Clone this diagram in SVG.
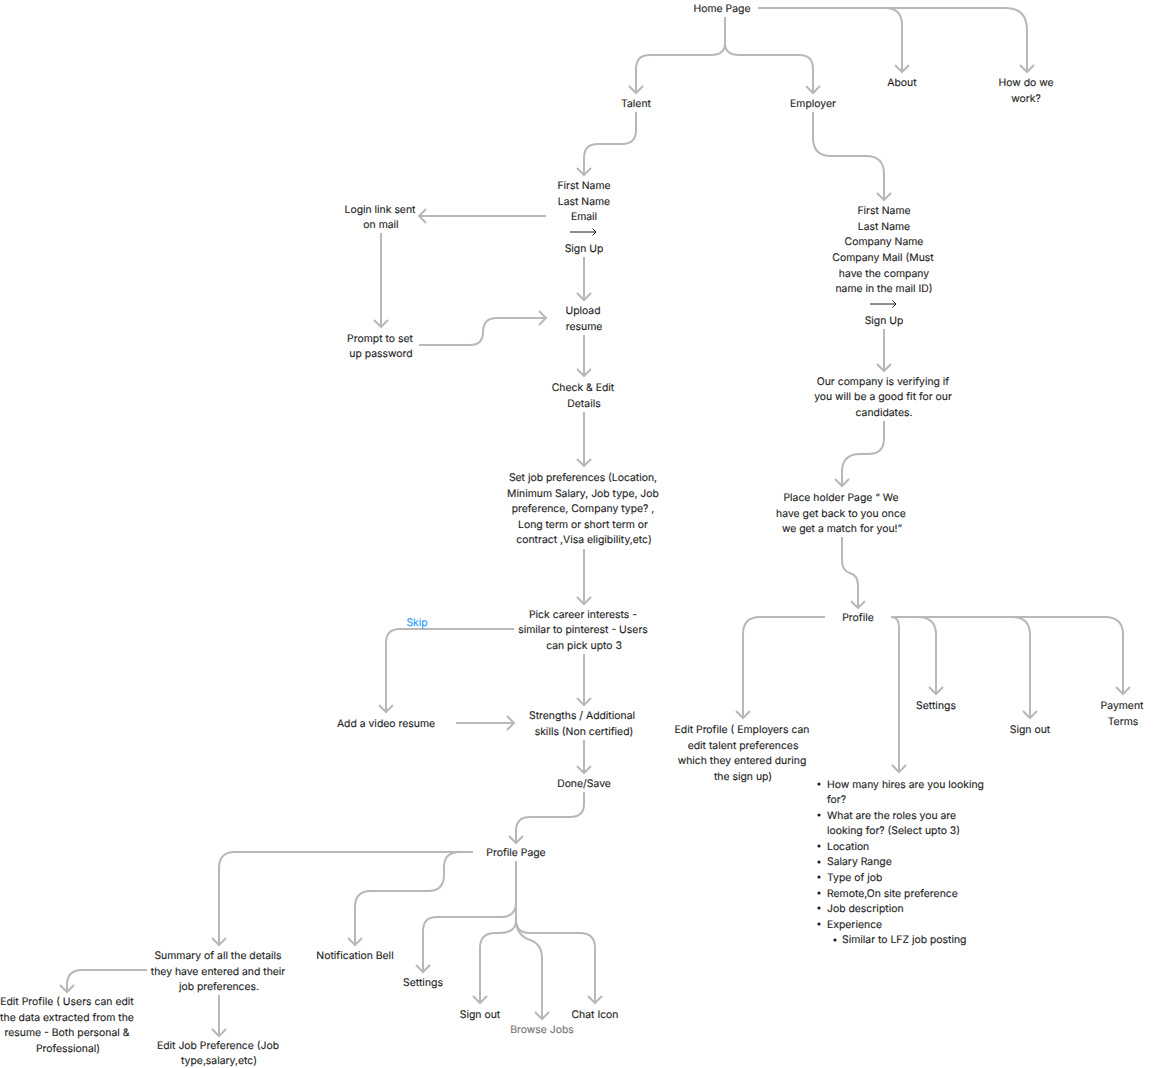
<svg xmlns="http://www.w3.org/2000/svg" width="1160" height="1068" viewBox="0 0 1160 1068">
<style>
text{font-family:Inter,"Noto Sans","Liberation Sans",sans-serif;font-size:10.4px;fill:#1e1e1e;stroke:#1e1e1e;stroke-width:.12px;text-anchor:middle;text-rendering:geometricPrecision}
.l{text-anchor:start}
.c path{fill:none;stroke:#b8b8b8;stroke-width:2;marker-end:url(#a)}
.t{fill:none;stroke:#1e1e1e;stroke-width:1;marker-end:url(#b)}
</style>
<defs>
<marker id="a" markerUnits="userSpaceOnUse" markerWidth="20" markerHeight="24" refX="10" refY="10" orient="auto" overflow="visible"><path d="M3 3 L10 10 L3 17" fill="none" stroke="#b8b8b8" stroke-width="2"/></marker>
<marker id="b" markerUnits="userSpaceOnUse" markerWidth="8" markerHeight="8" refX="5" refY="4" orient="auto"><path d="M1.5 .5 L5 4 L1.5 7.5" fill="none" stroke="#1e1e1e" stroke-width="1"/></marker>
</defs>
<rect width="1160" height="1068" fill="#fff"/>
<g id="connectors" class="c">
<path d="M725 17V43Q725 55 711 55H650Q636 55 636 69V93"/>
<path d="M725 43Q725 55 739 55H799Q813 55 813 69V93"/>
<path d="M758 8H885Q902 8 902 25V72"/>
<path d="M758 8H1005Q1027 8 1027 30V72"/>
<path d="M636 112V130Q636 144 622 144H598Q584 144 584 158V175"/>
<path d="M813 112V138Q813 156 831 156H866Q884 156 884 174V200"/>
<path d="M546 216H419"/>
<path d="M381 233V327"/>
<path d="M584 257V300"/>
<path d="M419 345H470Q483 345 483 332Q483 318 497 318H546"/>
<path d="M584 335V376"/>
<path d="M584 412V466"/>
<path d="M584 549V604"/>
<path d="M584 654V705"/>
<path d="M514 629H400Q386 629 386 643V712"/>
<path d="M456 723H514"/>
<path d="M584 740V773"/>
<path d="M584 792V804Q584 817 570 817H530Q516 817 516 831V843"/>
<path d="M473 852H235Q219 852 219 868V945"/>
<path d="M460 852Q444 852 444 867V875Q444 891 428 891H371Q355 891 355 907V945"/>
<path d="M516 861V902Q516 917 501 917H437Q423 917 423 931V972"/>
<path d="M516 861V920Q516 933 500 933H495Q480 933 480 948V1003"/>
<path d="M516 920Q516 935 530 940Q542 944 542 958V1019"/>
<path d="M516 920Q516 933 530 933H580Q595 933 595 948V1003"/>
<path d="M147 970H82Q67 970 67 985V992"/>
<path d="M219 995V1036"/>
<path d="M884 329V371"/>
<path d="M884 421V439Q884 454 868 454H860Q842 454 842 472V486"/>
<path d="M842 537V560Q842 571 850 573Q858 575 858 586V608"/>
<path d="M825 617H760Q743 617 743 634V718"/>
<path d="M891 617H1105Q1123 617 1123 635V694"/>
<path d="M891 617H1012Q1030 617 1030 635V718"/>
<path d="M891 617H918Q936 617 936 635V694"/>
<path d="M891 617Q899 617 899 627V772"/>
</g>
<g id="home"><text x="722" y="12">Home Page</text></g>
<g id="talent"><text x="636" y="107">Talent</text></g>
<g id="employer"><text x="813" y="107">Employer</text></g>
<g id="about"><text x="902" y="86">About</text></g>
<g id="how"><text x="1026" y="86">How do we</text><text x="1026" y="102">work?</text></g>
<g id="talent-signup"><text x="584" y="189">First Name</text><text x="584" y="204.5">Last Name</text><text x="584" y="220">Email</text><path class="t" d="M570 232H596"/><text x="584" y="251.5">Sign Up</text></g>
<g id="login"><text x="380" y="213">Login link sent</text><text x="381" y="228">on mail</text></g>
<g id="prompt"><text x="380" y="341.5">Prompt to set</text><text x="381" y="357">up password</text></g>
<g id="upload"><text x="583" y="314">Upload</text><text x="584" y="329.5">resume</text></g>
<g id="check"><text x="583" y="391">Check &amp; Edit</text><text x="584" y="406.5">Details</text></g>
<g id="prefs"><text x="583" y="481">Set job preferences (Location,</text><text x="583" y="496.5">Minimum Salary, Job type, Job</text><text x="583" y="512">preference, Company type? ,</text><text x="583" y="527.5">Long term or short term or</text><text x="584" y="543">contract ,Visa eligibility,etc)</text></g>
<g id="interests"><text x="583" y="617.5">Pick career interests -</text><text x="583" y="633">similar to pinterest - Users</text><text x="584" y="648.5">can pick upto 3</text></g>
<g id="skip"><text x="417" y="625.5" style="fill:#1a9bfc;stroke:#1a9bfc">Skip</text></g>
<g id="video"><text x="386" y="727">Add a video resume</text></g>
<g id="strengths"><text x="582" y="719">Strengths / Additional</text><text x="584" y="734.5">skills (Non certified)</text></g>
<g id="done"><text x="584" y="787">Done/Save</text></g>
<g id="profile-page"><text x="516" y="856">Profile Page</text></g>
<g id="summary"><text x="218" y="959">Summary of all the details</text><text x="218" y="974.5">they have entered and their</text><text x="219" y="990">job preferences.</text></g>
<g id="bell"><text x="355" y="959">Notification Bell</text></g>
<g id="settings-t"><text x="423" y="986">Settings</text></g>
<g id="signout-t"><text x="480" y="1017.5">Sign out</text></g>
<g id="chat"><text x="595" y="1017.5">Chat Icon</text></g>
<g id="browse"><text x="542" y="1033" style="fill:#757575;stroke:#757575">Browse Jobs</text></g>
<g id="edit-t"><text x="67" y="1005">Edit Profile ( Users can edit</text><text x="67" y="1020.5">the data extracted from the</text><text x="67" y="1036">resume - Both personal &amp;</text><text x="68" y="1052">Professional)</text></g>
<g id="edit-job"><text x="218" y="1048.5">Edit Job Preference (Job</text><text x="219" y="1064">type,salary,etc)</text></g>
<g id="emp-signup"><text x="884" y="214">First Name</text><text x="884" y="229.5">Last Name</text><text x="884" y="245">Company Name</text><text x="883" y="261">Company Mail (Must</text><text x="884" y="276.5">have the company</text><text x="884" y="292">name in the mail ID)</text><path class="t" d="M870 304H896"/><text x="884" y="323.5">Sign Up</text></g>
<g id="verify"><text x="883" y="384.5">Our company is verifying if</text><text x="883" y="400">you will be a good fit for our</text><text x="884" y="416">candidates.</text></g>
<g id="placeholder"><text x="841" y="500.5">Place holder Page “ We</text><text x="841" y="516.5">have get back to you once</text><text x="842" y="532">we get a match for you!”</text></g>
<g id="profile"><text x="858" y="621">Profile</text></g>
<g id="edit-e"><text x="742" y="733">Edit Profile ( Employers can</text><text x="743" y="748.5">edit talent preferences</text><text x="742" y="764">which they entered during</text><text x="743" y="779.5">the sign up)</text></g>
<g id="settings-e"><text x="936" y="708.5">Settings</text></g>
<g id="signout-e"><text x="1030" y="733">Sign out</text></g>
<g id="payment"><text x="1122" y="708.5">Payment</text><text x="1123" y="724.5">Terms</text></g>
<g id="hire-list">
<circle cx="819" cy="784" r="1.6" fill="#1e1e1e"/><text class="l" x="827" y="787.5">How many hires are you looking</text><text class="l" x="827" y="803">for?</text>
<circle cx="819" cy="815" r="1.6" fill="#1e1e1e"/><text class="l" x="827" y="818.5">What are the roles you are</text><text class="l" x="827" y="834">looking for? (Select upto 3)</text>
<circle cx="819" cy="846" r="1.6" fill="#1e1e1e"/><text class="l" x="827" y="850">Location</text>
<circle cx="819" cy="862" r="1.6" fill="#1e1e1e"/><text class="l" x="827" y="865">Salary Range</text>
<circle cx="819" cy="877" r="1.6" fill="#1e1e1e"/><text class="l" x="827" y="881">Type of job</text>
<circle cx="819" cy="893" r="1.6" fill="#1e1e1e"/><text class="l" x="827" y="896.5">Remote,On site preference</text>
<circle cx="819" cy="908" r="1.6" fill="#1e1e1e"/><text class="l" x="827" y="912">Job description</text>
<circle cx="819" cy="924" r="1.6" fill="#1e1e1e"/><text class="l" x="827" y="927.5">Experience</text>
<circle cx="835" cy="940" r="1.6" fill="#1e1e1e"/><text class="l" x="842" y="943">Similar to LFZ job posting</text>
</g>
</svg>
